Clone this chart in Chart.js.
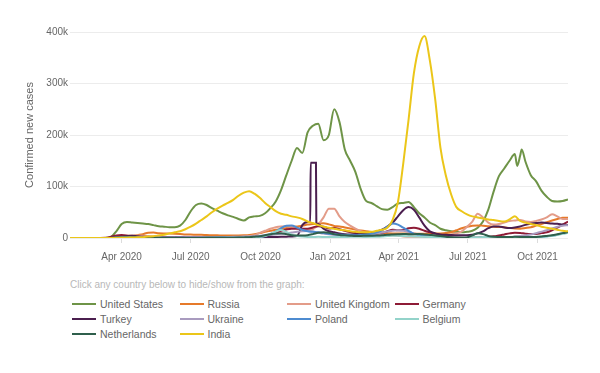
<!DOCTYPE html>
<html><head><meta charset="utf-8">
<script src="https://cdn.jsdelivr.net/npm/chart.js@4.4.1/dist/chart.umd.min.js"></script>
<style>
html,body{margin:0;padding:0;background:#fff;}
#wrap{position:relative;width:600px;height:373px;overflow:hidden;}
#chartBox{position:absolute;left:0;top:0;width:600px;height:270px;}
#hint{position:absolute;left:70px;top:279px;font:10px "Liberation Sans",Arial,sans-serif;color:#b8b8b8;white-space:nowrap;}
#legend{position:absolute;left:72px;top:296px;display:grid;grid-template-columns:repeat(4,107.5px);}
.item{height:15px;display:flex;align-items:center;font:10.5px "Liberation Sans",Arial,sans-serif;color:#666;cursor:pointer;white-space:nowrap;}
.sw{width:24px;height:2px;margin-right:4px;flex:none;}
.off{opacity:.35;}
</style>
</head><body>
<div id="wrap">
  <div id="chartBox"><canvas id="c" width="600" height="270"></canvas></div>
  <div id="hint">Click any country below to hide/show from the graph:</div>
  <div id="legend"></div>
</div>
<script>
// Days counted from 22 Jan 2020; one value per week (values in thousands of cases)
const tickDays = [70, 161, 253, 345, 435, 526, 618];
const tickLabels = ['Apr 2020', 'Jul 2020', 'Oct 2020', 'Jan 2021', 'Apr 2021', 'Jul 2021', 'Oct 2021'];
const countries = ['United States', 'Russia', 'United Kingdom', 'Germany', 'Turkey', 'Ukraine', 'Poland', 'Belgium', 'Netherlands', 'India'];
const colors = ['#6e9447', '#e67a2a', '#e39c89', '#8e1b36', '#4b1f4f', '#a99bbf', '#4d8bd0', '#93d3ca', '#2f5f4c', '#ebc619'];

const unitedStates = [0,0,0,0,0,0,0,0.2,2,13,
 27,31,30,29,28,27,25,23,22,21,
 21,24,35,52,64,67,64,58,53,48,
 44,41,37,34,40,42,43,48,58,71,
 93,122,150,175,165,205,218,222,190,200,
 250,225,172,150,128,95,72,68,62,56,
 55,60,67,68,70,60,48,40,30,25,
 18,15,13,12,11,12,14,20,32,55,
 90,120,135,150,163,160,148,122,110,92,
 80,72,71,72,75];
const unitedStatesExtraDays = [591, 597];
const unitedStatesExtraValues = [140, 172];

const russia = [0,0,0,0,0,0,0,0,0,0.2,
 0.6,1.6,3.5,5.5,7.5,10.3,10.5,9.2,8.8,8.7,
 8.4,7.8,7,6.6,6.5,6.2,5.7,5.3,5.1,5,
 4.8,4.8,5,5.4,6,7.5,9.5,12,14,16,
 17.5,19.5,21,22.5,24,26,27,28,28.5,26.5,
 23.5,22.5,20.5,18.5,16.5,14.5,13,11.8,10.8,9.8,
 9.3,8.9,8.8,8.7,8.6,8.5,8.3,8.2,8.3,8.6,
 8.8,9.5,11,15,19,22,24,24.5,23.8,22.8,
 22,21.3,20.8,19.5,18.5,18.2,19.5,21,24,27,
 30.5,34,37,39.5,39.5];

const unitedKingdom = [0,0,0,0,0,0,0,0.1,0.6,2.5,
 4.2,5,4.8,4.7,4.4,3.8,3.1,2.5,2,1.5,
 1.2,1,0.8,0.65,0.6,0.65,0.7,0.8,0.95,1.05,
 1.15,1.3,1.8,2.8,3.8,5.5,10,14,18,21,
 22.5,23,22,19,15,14.5,17,26,40,57,
 57,42,31,24,18,13,10,8,6.5,5.8,
 5.5,5.3,4.5,3,2.6,2.5,2.2,2.3,2.3,2.6,
 3.3,4.5,7,9,13,22,32,47,40,30,
 26,27,30,33,34,35,32,31,33,36,
 40,46,42,37,37];

const germany = [0,0,0,0,0,0,0,0.3,2.5,4.8,
 5.6,4.5,3,2,1.3,1,0.75,0.6,0.5,0.4,
 0.4,0.5,0.55,0.45,0.45,0.5,0.6,0.7,0.85,1.1,
 1.3,1.4,1.3,1.35,1.6,1.9,2.4,3.5,6,9.5,
 14,16.5,18,18,18,18,20.5,23,22,18.5,
 19.5,17,14,11.5,9.5,8,7.6,8,8.7,10,
 13,16,15,15.5,19,20,18,14,11,8.5,
 5.5,3.5,2,1.2,0.8,0.6,0.8,1.2,1.8,2.4,
 3.2,5,7,9,10.2,9.8,8.5,7.8,8,9.5,
 11,15,20,26,32];

const turkey = [0,0,0,0,0,0,0,0,0.1,1.2,
 2.5,4,4.3,3.3,2.3,1.8,1.5,1.1,1,0.9,
 1.2,1.4,1.2,1.1,1,1,0.95,0.95,1,1.1,
 1.2,1.3,1.5,1.6,1.7,1.6,1.5,1.6,1.8,2,
 2.2,2.5,3.1,4,25,31,146,27,18,13,
 11,9,7.5,7,7.2,7.8,8.5,10,12.5,16,
 22,30,42,54,60,55,40,24,13,9,
 7,6.2,5.6,5.4,5.2,5.4,6.5,9,13,19,
 22.5,22.5,20.5,19.5,20.5,22.5,25.5,27.5,29,30,
 29,28,27.5,26,25];
const turkeyExtraDays = [318.5, 319, 326, 326.5];
const turkeyExtraValues = [31, 146, 146, 29];

const ukraine = [0,0,0,0,0,0,0,0,0,0.05,
 0.15,0.3,0.4,0.45,0.45,0.45,0.4,0.4,0.45,0.55,
 0.65,0.85,0.9,0.9,0.85,0.9,1,1.1,1.3,1.5,
 1.9,2.3,2.5,2.7,3.1,3.6,4.3,5.2,6,6.8,
 7.8,9,10.5,12.3,13.2,13.5,12.5,10.5,8.5,7.5,
 6,5.8,5.2,4.3,4,4.6,5.2,6.5,8.5,10.5,
 12.5,14.3,15,14,11.5,9,6.5,4.7,3.7,2.7,
 1.8,1.2,0.9,0.6,0.45,0.4,0.45,0.5,0.7,0.95,
 1.15,1.35,1.6,2,2.9,3.9,5,6.8,9.2,12,
 15,18.5,22,24,25];

const poland = [0,0,0,0,0,0,0,0,0,0.05,
 0.25,0.35,0.3,0.3,0.33,0.33,0.3,0.3,0.35,0.35,
 0.4,0.35,0.3,0.3,0.3,0.38,0.5,0.65,0.75,0.8,
 0.7,0.7,0.6,0.55,0.8,1.2,2.3,4.5,8,12.5,
 19,24,24.5,20,16,13,12,11,9.5,8,
 7.5,6.3,6,5.4,5.2,5.7,6.8,8.5,11,15,
 22,28,26,20,14,8,5,3.5,2,1.2,
 0.6,0.35,0.22,0.15,0.1,0.1,0.1,0.1,0.12,0.14,
 0.16,0.2,0.25,0.3,0.4,0.5,0.7,1,1.5,2,
 3.2,4.6,6.5,9.5,12];

const belgium = [0,0,0,0,0,0,0,0,0.2,0.8,
 1.3,1.5,1.2,0.9,0.65,0.45,0.33,0.28,0.2,0.1,
 0.1,0.1,0.1,0.1,0.13,0.2,0.33,0.48,0.55,0.5,
 0.45,0.45,0.5,0.65,1.1,1.6,2.2,4,7.5,12.5,
 15.5,12,6.5,4,2.8,2.1,2,2.3,2.1,1.8,
 1.9,2.1,2,2.2,2.2,2.2,2.1,2.2,2.5,3,
 3.7,4.3,4.2,3.7,3.3,3.1,2.7,2.3,2.1,1.9,
 1.5,1,0.7,0.55,0.5,0.7,1.1,1.5,1.8,1.8,
 1.8,1.9,2,2,2,2.1,2.1,2,2.3,2.4,
 3,4.3,5.8,8,10];

const netherlands = [0,0,0,0,0,0,0,0,0.3,0.8,
 1.05,1.1,0.95,0.7,0.45,0.3,0.2,0.18,0.14,0.12,
 0.11,0.09,0.07,0.08,0.12,0.18,0.27,0.42,0.55,0.58,
 0.55,0.57,0.75,1.2,1.7,2.6,3.6,5.3,7.2,8.5,
 9.4,7.5,5.5,5,5,5.5,7.5,10,11,10,
 7.5,6,5.2,4.5,3.9,4,4.4,4.5,4.7,5.2,
 6.1,6.7,7.2,7.6,7.5,7.5,7.6,6.8,5.9,5,
 3.8,2.5,1.6,0.9,0.7,1.2,5,9,7.5,4,
 2.5,2.1,2,2,2.2,2.1,1.9,1.8,2.1,2.8,
 4,5.3,7.3,9.5,11.5];

const india = [0,0,0,0,0,0,0,0,0,0.1,
 0.3,0.6,1,1.3,1.7,2.8,3.6,5,6.5,9,
 11,13,17,22,28,35,42,50,57,63,
 68,74,82,88,91,86,78,68,60,52,
 47,45,42,40,37,32,29,25,22,20,
 18,16,15,13,12,11,11,12,14,16,
 20,35,70,145,230,320,372,392,345,270,
 175,122,85,60,52,46,42,40,38,36,
 35,33,32,36,42,33,30,27,25,22,
 20,18,16,14,13];

const seriesValues = [unitedStates, russia, unitedKingdom, germany, turkey, ukraine, poland, belgium, netherlands, india];
const seriesExtraDays = [unitedStatesExtraDays, [], [], [], turkeyExtraDays, [], [], [], [], []];
const seriesExtraValues = [unitedStatesExtraValues, [], [], [], turkeyExtraValues, [], [], [], [], []];

function buildPoints(vals, exDays, exVals) {
  const pts = vals.map((v, i) => ({x: i * 7, y: v}));
  exDays.forEach((d, k) => pts.push({x: d, y: exVals[k]}));
  pts.sort((a, b) => a.x - b.x);
  return pts;
}

const FONT = '"Liberation Sans", Arial, sans-serif';
const datasets = countries.map((name, i) => ({
  label: name,
  data: buildPoints(seriesValues[i], seriesExtraDays[i], seriesExtraValues[i]),
  borderColor: colors[i],
  backgroundColor: colors[i],
  borderWidth: 2,
  pointRadius: 0,
  cubicInterpolationMode: 'monotone',
  fill: false,
  order: countries.length - i
}));

const chart = new Chart(document.getElementById('c'), {
  type: 'line',
  data: {datasets},
  options: {
    responsive: false,
    animation: false,
    layout: {padding: {top: 32, right: 32, left: 0, bottom: 0}},
    plugins: {legend: {display: false}, tooltip: {enabled: false}},
    scales: {
      x: {
        type: 'linear', min: 2, max: 658,
        afterBuildTicks(s) { s.ticks = tickDays.map(v => ({value: v})); },
        afterFit(s) { s.height = 32; },
        ticks: {autoSkip: false, maxRotation: 0, color: '#666', font: {family: FONT, size: 10}, padding: 8,
          callback: (v, i) => tickLabels[i]},
        grid: {drawOnChartArea: false, drawTicks: true, tickLength: 5, color: '#dcdcdc'},
        border: {display: false}
      },
      y: {
        min: 0, max: 400,
        afterFit(s) { s.width = 70; },
        ticks: {stepSize: 100, color: '#666', font: {family: FONT, size: 10}, padding: 2,
          callback: v => v === 0 ? '0' : v + 'k'},
        grid: {color: '#ececec', drawTicks: false},
        border: {display: false},
        title: {display: true, text: 'Confirmed new cases', color: '#666', font: {family: FONT, size: 11}, padding: {top: 23, bottom: 0}}
      }
    }
  }
});

const legend = document.getElementById('legend');
countries.forEach((name, i) => {
  const it = document.createElement('div');
  it.className = 'item';
  it.innerHTML = '<span class="sw" style="background:' + colors[i] + '"></span><span>' + name + '</span>';
  it.onclick = () => {
    const vis = chart.isDatasetVisible(i);
    chart.setDatasetVisibility(i, !vis);
    it.classList.toggle('off', vis);
    chart.update();
  };
  legend.appendChild(it);
});
</script>
</body></html>
